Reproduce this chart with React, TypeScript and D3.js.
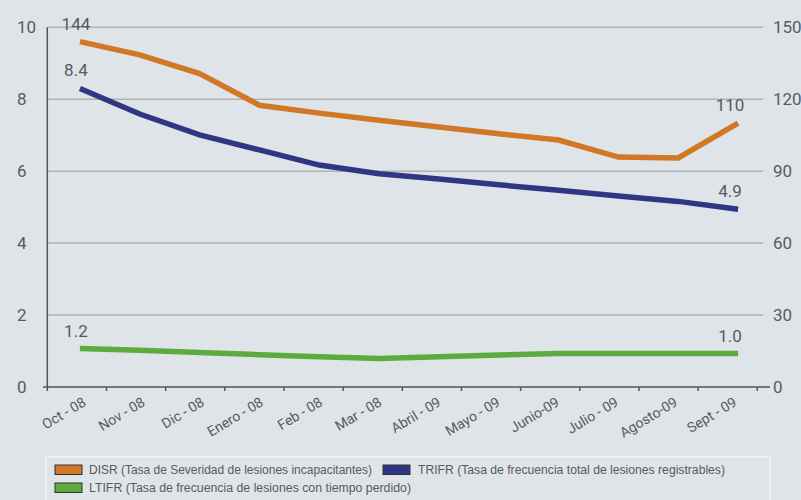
import React from "react";
import * as d3 from "d3";

const categories = [
  "Oct - 08", "Nov - 08", "Dic - 08", "Enero - 08", "Feb - 08", "Mar - 08",
  "Abril - 09", "Mayo - 09", "Junio-09", "Julio - 09", "Agosto-09", "Sept - 09",
];
// DISR on right axis (0-150)
const disr = [144, 138.5, 130.7, 117.5, 114.2, 111.2, 108.4, 105.6, 103, 95.9, 95.5, 110];
// TRIFR on left axis (0-10)
const trifr = [8.3, 7.59, 7.01, 6.59, 6.17, 5.93, 5.78, 5.62, 5.47, 5.31, 5.16, 4.94];
// LTIFR on left axis
const ltifr = [1.07, 1.02, 0.96, 0.9, 0.84, 0.79, 0.84, 0.89, 0.93, 0.93, 0.93, 0.93];
const leftTicks = [0, 2, 4, 6, 8, 10];
const rightTicks = [0, 30, 60, 90, 120, 150];
const startLabels = ["144", "8.4", "1.2"];
const endLabels = ["110", "4.9", "1.0"];
const legendItems = [
  "DISR (Tasa de Severidad de lesiones incapacitantes)",
  "TRIFR (Tasa de frecuencia total de lesiones registrables)",
  "LTIFR (Tasa de frecuencia de lesiones con tiempo perdido)",
];

const COLORS = ["#D17826", "#2F3785", "#5DAA3F"];
const TXT = "#5a5a5a";

export default function App() {
  const W = 801, H = 500;
  const y0 = 387, yTop = 27.3;
  const yL = d3.scaleLinear().domain([0, 10]).range([y0, yTop]);
  const yR = d3.scaleLinear().domain([0, 150]).range([y0, yTop]);
  const xBand = d3.scaleBand<string>().domain(categories).range([47.3, 757.3]);
  const xPt = d3.scalePoint<string>().domain(categories).range([50, 768]).padding(0.5);

  const lineL = d3.line<number>().x((_, i) => xPt(categories[i])!).y((d) => yL(d));
  const lineR = d3.line<number>().x((_, i) => xPt(categories[i])!).y((d) => yR(d));

  const tickPos = categories.map((c) => xBand(c)!).concat([xBand.range()[1]]);
  const series = [
    { vals: disr, y: yR, path: lineR(disr)! },
    { vals: trifr, y: yL, path: lineL(trifr)! },
    { vals: ltifr, y: yL, path: lineL(ltifr)! },
  ];
  const first = categories[0];
  const last = categories[categories.length - 1];

  return (
    <svg width={W} height={H} style={{ position: "absolute", left: 0, top: 0 }}
      fontFamily="Roboto, 'Liberation Sans', sans-serif">
      <rect x={0} y={0} width={W} height={H} fill="#DFE4E8" />
      {/* gridlines */}
      {leftTicks.filter((t) => t > 0).map((t) => (
        <line key={t} x1={48} x2={763} y1={yL(t)} y2={yL(t)} stroke="#B0B2B4" strokeWidth={1.5} />
      ))}
      {/* axes */}
      <line x1={47.3} x2={47.3} y1={yTop} y2={y0} stroke="#555" strokeWidth={1.5} />
      <line x1={43} x2={770} y1={y0} y2={y0} stroke="#555" strokeWidth={1.5} />
      {tickPos.map((x, i) => (
        <line key={i} x1={x} x2={x} y1={y0} y2={y0 + 4} stroke="#555" strokeWidth={1.5} />
      ))}
      {leftTicks.map((t) => (
        <text key={t} x={17} y={yL(t)} dy="0.36em" fontSize={17} fill={TXT}>{t}</text>
      ))}
      {rightTicks.map((t) => (
        <text key={t} x={773} y={yR(t)} dy="0.36em" fontSize={17} fill={TXT}>{t}</text>
      ))}
      {categories.map((c) => {
        const x = xBand(c)! + xBand.bandwidth() / 2 + 10;
        const y = 405;
        return (
          <text key={c} x={x} y={y} fontSize={14} fill={TXT} textAnchor="end"
            transform={`rotate(-31 ${x} ${y})`}>{c}</text>
        );
      })}
      {/* lines */}
      {series.map((s, i) => (
        <path key={i} d={s.path} fill="none" stroke={COLORS[i]} strokeWidth={5.5} />
      ))}
      {/* data labels */}
      {series.map((s, i) => (
        <g key={i}>
          <text x={xPt(first)! - 4} y={s.y(s.vals[0]) - 12} fontSize={17} fill={TXT} textAnchor="middle">
            {startLabels[i]}
          </text>
          <text x={xPt(last)! - 8} y={s.y(s.vals[s.vals.length - 1]) - 12} fontSize={17} fill={TXT} textAnchor="middle">
            {endLabels[i]}
          </text>
        </g>
      ))}
      {/* legend */}
      <rect x={46} y={456.7} width={724} height={60} fill="#DFE4E8" stroke="#F3F5F7" strokeWidth={1.5} />
      {[
        { x: 55, y: 465, tx: 89, ty: 473.5, len: 283 },
        { x: 383, y: 465, tx: 418, ty: 473.5, len: 307 },
        { x: 55, y: 483, tx: 89, ty: 491.5, len: 322 },
      ].map((p, i) => (
        <g key={i}>
          <rect x={p.x} y={p.y} width={27} height={9.5} fill={COLORS[i]} stroke="#333" strokeWidth={1} />
          <text x={p.tx} y={p.ty} fontSize={12.5} fill={TXT}
            fontFamily="'Liberation Sans Narrow', 'Liberation Sans', sans-serif"
            textLength={p.len} lengthAdjust="spacingAndGlyphs">{legendItems[i]}</text>
        </g>
      ))}
    </svg>
  );
}
